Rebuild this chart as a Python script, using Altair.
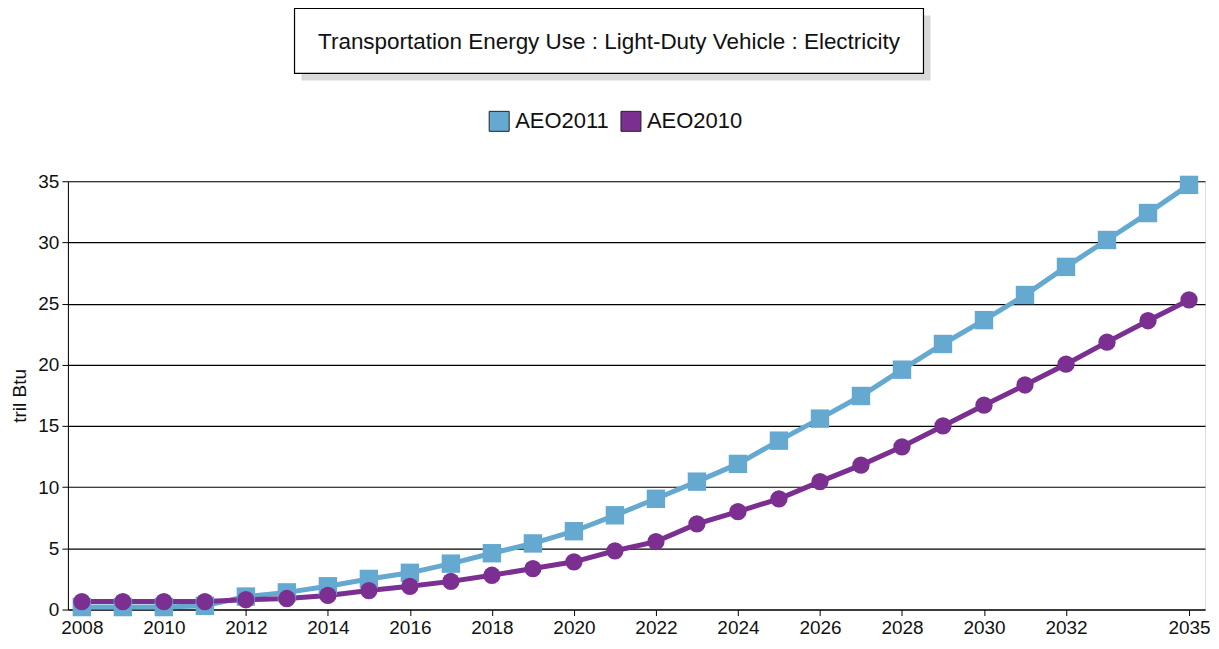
import altair as alt
import pandas as pd

years = list(range(2008, 2036))
aeo2011 = [0.2, 0.2, 0.2, 0.3, 1.06, 1.4, 1.9, 2.5, 3.0, 3.75, 4.6, 5.4, 6.4, 7.7,
           9.05, 10.45, 11.9, 13.8, 15.6, 17.45, 19.6, 21.7, 23.65, 25.7, 28.0, 30.2, 32.4, 34.7]
aeo2010 = [0.65, 0.65, 0.65, 0.65, 0.8, 0.9, 1.15, 1.55, 1.9, 2.3, 2.8, 3.35, 3.9, 4.8,
           5.55, 7.0, 8.0, 9.05, 10.45, 11.8, 13.3, 15.0, 16.7, 18.35, 20.05, 21.85, 23.6, 25.3]
series_names = ["AEO2011", "AEO2010"]
series_colors = ["#65a9d0", "#7b2f91"]
x_ticks = [2008, 2010, 2012, 2014, 2016, 2018, 2020, 2022, 2024, 2026, 2028, 2030, 2032, 2035]
y_ticks = [0, 5, 10, 15, 20, 25, 30, 35]
title_text = "Transportation Energy Use : Light-Duty Vehicle : Electricity"

rows = []
for y, a, b in zip(years, aeo2011, aeo2010):
    rows.append({"year": y, "series": "AEO2011", "value": a})
    rows.append({"year": y, "series": "AEO2010", "value": b})
df = pd.DataFrame(rows)

FONT = "Liberation Sans"
W, H = 1139, 429

x = alt.X("year:Q", scale=alt.Scale(domain=[2007.66, 2035.39], nice=False, zero=False),
          axis=alt.Axis(values=x_ticks, format="d", title=None, grid=False,
                        labelFont=FONT, labelFontSize=19, labelColor="#111",
                        tickColor="#000", domainColor="#000", tickSize=6, labelPadding=3))
y = alt.Y("value:Q", scale=alt.Scale(domain=[0, 35], nice=False),
          axis=alt.Axis(values=y_ticks, title="tril Btu", titleFont=FONT, titleFontSize=19,
                        titleFontWeight="normal", titleColor="#111", titlePadding=8,
                        labelFont=FONT, labelFontSize=19, labelColor="#111",
                        gridColor="#000", gridWidth=1.2, tickColor="#000",
                        domainColor="#000", tickSize=6, labelPadding=3))
color = alt.Color("series:N", scale=alt.Scale(domain=series_names, range=series_colors),
                  sort=series_names,
                  legend=alt.Legend(title=None, orient="none", direction="horizontal",
                                    legendX=421, legendY=-71, symbolType="square",
                                    symbolSize=400, symbolStrokeColor="#222",
                                    symbolStrokeWidth=1,
                                    labelFont=FONT, labelFontSize=22, labelColor="#111",
                                    columnPadding=10, labelOffset=5, symbolOpacity=1))

base = alt.Chart(df)
d11 = base.transform_filter(alt.datum.series == "AEO2011")
d10 = base.transform_filter(alt.datum.series == "AEO2010")
line_2011 = d11.mark_line(strokeWidth=5, color=series_colors[0]).encode(x=x, y=y)
line_2010 = d10.mark_line(strokeWidth=5, color=series_colors[1]).encode(x=x, y=y)
pts_2011 = d11.mark_point(filled=True, opacity=1, shape="square", size=340).encode(
    x=x, y=y, color=color)
pts_2010 = d10.mark_point(filled=True, opacity=1, shape="circle", size=300).encode(
    x=x, y=y, color=color)

hdr = pd.DataFrame({"t": [title_text]})
shadow = alt.Chart(hdr).mark_rect(fill="#d9d9d9").encode(
    x=alt.value(234), x2=alt.value(864), y=alt.value(-166), y2=alt.value(-101))
box = alt.Chart(hdr).mark_rect(fill="white", stroke="#000", strokeWidth=1.2).encode(
    x=alt.value(227), x2=alt.value(857), y=alt.value(-173), y2=alt.value(-108))
ttl = alt.Chart(hdr).mark_text(font=FONT, fontSize=22.5, color="#111", align="center",
                               baseline="middle").encode(
    text="t:N", x=alt.value(542), y=alt.value(-139))

chart = alt.layer(shadow, box, ttl, line_2011, line_2010, pts_2011, pts_2010).properties(
    width=W, height=H,
    autosize=alt.AutoSizeParams(type="none"),
    padding={"left": 60, "top": 173, "right": 6, "bottom": 30},
).configure_view(stroke="#444", strokeWidth=1.2).configure(background="white")

chart.save("out.html", embed_options={"renderer": "svg", "actions": False})
